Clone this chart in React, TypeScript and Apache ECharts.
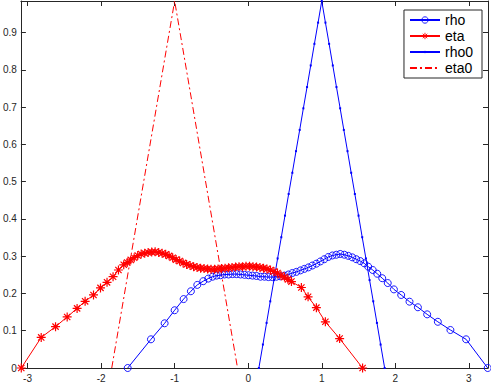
import React, { useEffect, useRef } from "react";
import * as echarts from "echarts";

// ---- data ----
const rhoX = [-1.638, -1.322, -1.136, -1.0, -0.878, -0.779, -0.692, -0.611, -0.543, -0.484, -0.43, -0.376, -0.322, -0.267, -0.213, -0.159, -0.104, -0.05, 0.004, 0.058, 0.113, 0.167, 0.221, 0.275, 0.33, 0.384, 0.438, 0.493, 0.547, 0.601, 0.656, 0.71, 0.764, 0.818, 0.872, 0.927, 0.981, 1.035, 1.09, 1.144, 1.198, 1.252, 1.307, 1.361, 1.415, 1.469, 1.524, 1.578, 1.632, 1.693, 1.754, 1.822, 1.897, 1.981, 2.08, 2.193, 2.307, 2.433, 2.578, 2.749, 2.962, 3.256];
const rhoY = [0, 0.077, 0.12, 0.155, 0.185, 0.206, 0.223, 0.233, 0.24, 0.245, 0.248, 0.249, 0.251, 0.251, 0.252, 0.252, 0.251, 0.25, 0.249, 0.248, 0.247, 0.245, 0.245, 0.244, 0.244, 0.245, 0.246, 0.248, 0.251, 0.255, 0.258, 0.262, 0.266, 0.27, 0.275, 0.28, 0.286, 0.292, 0.298, 0.302, 0.304, 0.306, 0.304, 0.301, 0.297, 0.292, 0.287, 0.281, 0.272, 0.263, 0.253, 0.241, 0.228, 0.211, 0.196, 0.178, 0.163, 0.144, 0.124, 0.102, 0.077, 0];

const etaX = [-3.085, -2.814, -2.619, -2.461, -2.326, -2.217, -2.103, -2.008, -1.919, -1.837, -1.764,
  -1.692, -1.645, -1.597, -1.55, -1.502, -1.455, -1.407, -1.36, -1.312, -1.265, -1.217, -1.17, -1.122, -1.075, -1.027, -0.98, -0.932, -0.885, -0.837, -0.79, -0.742, -0.695, -0.647, -0.6, -0.552, -0.505, -0.457, -0.41, -0.362, -0.315, -0.267, -0.22, -0.172, -0.125, -0.077, -0.03, 0.018, 0.065, 0.113, 0.16, 0.208, 0.255, 0.303, 0.35, 0.398, 0.445, 0.493, 0.54, 0.588,
  0.723, 0.814, 0.927, 1.049, 1.243, 1.555];
const etaY = [0, 0.082, 0.111, 0.137, 0.16, 0.179, 0.196, 0.215, 0.23, 0.245, 0.263,
  0.277, 0.283, 0.29, 0.296, 0.302, 0.306, 0.308, 0.31, 0.311, 0.312, 0.31, 0.308, 0.305, 0.301, 0.296, 0.291, 0.287, 0.282, 0.278, 0.275, 0.272, 0.27, 0.268, 0.267, 0.266, 0.265, 0.265, 0.266, 0.267, 0.268, 0.269, 0.27, 0.271, 0.272, 0.272, 0.273, 0.273, 0.272, 0.271, 0.27, 0.268, 0.266, 0.263, 0.259, 0.255, 0.249, 0.244, 0.238, 0.232,
  0.216, 0.191, 0.162, 0.124, 0.079, 0];

const rho0X = [0.145, 0.2, 0.25, 0.3, 0.35, 0.4, 0.45, 0.5, 0.55, 0.6, 0.65, 0.7, 0.75, 0.8, 0.85, 0.9, 0.95, 1.0, 1.05, 1.1, 1.15, 1.2, 1.25, 1.3, 1.35, 1.4, 1.45, 1.5, 1.55, 1.6, 1.65, 1.7, 1.75, 1.8, 1.855];
const rho0Y = [0, 0.063, 0.121, 0.179, 0.236, 0.294, 0.351, 0.409, 0.467, 0.524, 0.582, 0.639, 0.697, 0.754, 0.812, 0.87, 0.927, 0.985, 0.927, 0.87, 0.812, 0.754, 0.697, 0.639, 0.582, 0.524, 0.467, 0.409, 0.351, 0.294, 0.236, 0.179, 0.121, 0.063, 0];

const eta0X = [-1.855, -1.0, -0.145];
const eta0Y = [0, 0.985, 0];

const seriesNames = ["rho", "eta", "rho0", "eta0"];

const X_MIN = -3.09;
const X_MAX = 3.26;
const Y_MIN = 0;
const Y_MAX = 0.985;

const zip = (xs: number[], ys: number[]) => xs.map((x, i) => [x, ys[i]]);

const AXIS_COLOR = "#262626";
const FONT = "'Liberation Sans', Arial, Helvetica, sans-serif";

const ASTERISK = "path://M5 0L5 10M0 5L10 5M1.5 1.5L8.5 8.5M1.5 8.5L8.5 1.5";
const DOT = "path://M0 0L0 0M10 10L10 10M4 4L6 4L6 6L4 6Z";
const NOTHING = "path://M0 0L0 0M10 10L10 10";

export default function App() {
  const ref = useRef<HTMLDivElement>(null);
  useEffect(() => {
    if (!ref.current) return;
    const chart = echarts.init(ref.current, undefined, { renderer: "svg" });
    const axisLine = { show: true, onZero: false, lineStyle: { color: AXIS_COLOR, width: 1 } };
    const axisTick = { show: true, inside: true, length: 5, lineStyle: { color: AXIS_COLOR, width: 1 } };
    chart.setOption({
      animation: false,
      backgroundColor: "#ffffff",
      grid: { left: 19, right: 3, top: 1, bottom: 17, containLabel: false },
      xAxis: [
        {
          type: "value", min: X_MIN, max: X_MAX, position: "bottom",
          axisLine, axisTick,
          axisLabel: { show: true, margin: 5, fontSize: 10, color: AXIS_COLOR, fontFamily: FONT, showMinLabel: false, showMaxLabel: false },
          splitLine: { show: false },
        },
        {
          type: "value", min: X_MIN, max: X_MAX, position: "top",
          axisLine, axisTick, axisLabel: { show: false }, splitLine: { show: false },
        },
      ],
      yAxis: [
        {
          type: "value", min: Y_MIN, max: Y_MAX, interval: 0.1, position: "left",
          axisLine, axisTick,
          axisLabel: { show: true, margin: 4, fontSize: 10, color: AXIS_COLOR, fontFamily: FONT, showMaxLabel: false },
          splitLine: { show: false },
        },
        {
          type: "value", min: Y_MIN, max: Y_MAX, interval: 0.1, position: "right",
          axisLine, axisTick, axisLabel: { show: false }, splitLine: { show: false },
        },
      ],
      legend: {
        data: seriesNames,
        orient: "vertical",
        right: 9,
        top: 10,
        itemWidth: 30,
        itemHeight: 8,
        itemGap: 2,
        padding: [3, 9, 3, 5],
        borderColor: AXIS_COLOR,
        borderWidth: 1,
        backgroundColor: "#ffffff",
        itemStyle: { borderWidth: 0.9 },
        textStyle: { fontSize: 14, color: "#000000", fontFamily: FONT },
        selectedMode: false,
      },
      series: [
        {
          name: "rho", type: "line", data: zip(rhoX, rhoY),
          symbol: "circle", symbolSize: 7, showAllSymbol: true, clip: false,
          lineStyle: { color: "#0000ff", width: 1 },
          itemStyle: { color: "rgba(255,255,255,0)", borderColor: "#0000ff", borderWidth: 0.9 },
          emphasis: { disabled: true }, silent: true, z: 3,
        },
        {
          name: "eta", type: "line", data: zip(etaX, etaY),
          symbol: ASTERISK, symbolSize: 9, showAllSymbol: true, clip: false,
          lineStyle: { color: "#ff0000", width: 1 },
          itemStyle: { color: "#ff0000", borderColor: "#ff0000", borderWidth: 1.2 },
          emphasis: { disabled: true }, silent: true, z: 4,
        },
        {
          name: "rho0", type: "line", data: zip(rho0X, rho0Y),
          symbol: DOT, symbolSize: 10, showAllSymbol: true, clip: false,
          lineStyle: { color: "#0000ff", width: 1 },
          itemStyle: { color: "#0000ff", borderColor: "#0000ff", borderWidth: 0 },
          emphasis: { disabled: true }, silent: true, z: 2,
        },
        {
          name: "eta0", type: "line", data: zip(eta0X, eta0Y),
          symbol: NOTHING, showSymbol: false, clip: false,
          lineStyle: { color: "#ff0000", width: 1, type: [7, 3, 2, 3] },
          itemStyle: { color: "#ff0000", borderWidth: 0 },
          emphasis: { disabled: true }, silent: true, z: 2,
        },
      ],
    });
    return () => chart.dispose();
  }, []);
  return <div ref={ref} style={{ width: 491, height: 385, position: "absolute", left: 0, top: 0 }} />;
}
